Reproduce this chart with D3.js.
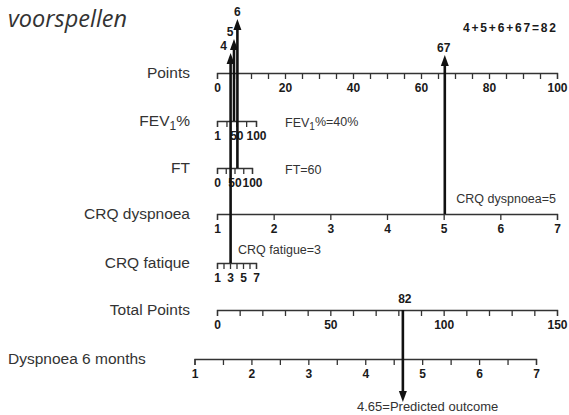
<!DOCTYPE html>
<html><head><meta charset="utf-8">
<script src="https://cdn.jsdelivr.net/npm/d3@7"></script>
<style>
html,body{margin:0;padding:0;background:#fff;}
svg{display:block;}
.axis text{font-family:"Liberation Sans",Arial,sans-serif;font-weight:bold;font-size:12px;fill:#1a1a1a;}
.axis path,.axis line{stroke:#333;stroke-width:1.3;}
.name{font-family:"Liberation Sans",Arial,sans-serif;font-size:15.5px;fill:#333;}
.ann{font-family:"Liberation Sans",Arial,sans-serif;font-size:12.5px;fill:#333;}
.num{font-family:"Liberation Sans",Arial,sans-serif;font-size:12px;font-weight:bold;fill:#1a1a1a;}
</style></head><body>
<svg id="c" width="569" height="415"></svg>
<script>
// ---- data ----
const pointsTicks = d3.range(0, 101, 5);
const pointsLabels = [0, 20, 40, 60, 80, 100];
const fev1Ticks = [1, 25, 50, 75, 100];
const fev1Labels = [1, 50, 100];
const ftTicks = [0, 25, 50, 75, 100];
const ftLabels = [0, 50, 100];
const crqDyspTicks = [1, 2, 3, 4, 5, 6, 7];
const crqFatTicks = [1, 2, 3, 4, 5, 6, 7];
const crqFatLabels = [1, 3, 5, 7];
const totalTicks = d3.range(0, 151, 10);
const totalLabels = [0, 50, 100, 150];
const outcomeTicks = d3.range(1, 7.01, 0.5);
const outcomeLabels = [1, 2, 3, 4, 5, 6, 7];

const variableNames = ["FEV1%", "FT", "CRQ dyspnoea", "CRQ fatigue"];
const variableValues = [40, 60, 5, 3];
const variablePoints = [5, 6, 67, 4];
const totalPoints = 82;
const predictedOutcome = 4.65;

// ---- layout ----
const svg = d3.select("#c");
const X0 = 217, X1 = 557;
const xPoints = d3.scaleLinear().domain([0, 100]).range([X0, X1]);
const xFev1 = d3.scaleLinear().domain([1, 100]).range([X0, 256]);
const xFt = d3.scaleLinear().domain([0, 100]).range([X0, 252]);
const xDysp = d3.scaleLinear().domain([1, 7]).range([X0, X1]);
const xFat = d3.scaleLinear().domain([1, 7]).range([X0, 256]);
const xTotal = d3.scaleLinear().domain([0, 150]).range([X0, X1]);
const xOut = d3.scaleLinear().domain([1, 7]).range([194.5, 536]);

const rows = [
  {name: "Points", y: 73, scale: xPoints, ticks: pointsTicks, labels: pointsLabels},
  {name: "FEV1%", y: 121, scale: xFev1, ticks: fev1Ticks, labels: fev1Labels},
  {name: "FT", y: 168, scale: xFt, ticks: ftTicks, labels: ftLabels},
  {name: "CRQ dyspnoea", y: 214, scale: xDysp, ticks: crqDyspTicks, labels: crqDyspTicks},
  {name: "CRQ fatique", y: 263, scale: xFat, ticks: crqFatTicks, labels: crqFatLabels},
  {name: "Total Points", y: 310, scale: xTotal, ticks: totalTicks, labels: totalLabels},
  {name: "Dyspnoea 6 months", y: 359, scale: xOut, ticks: outcomeTicks, labels: outcomeLabels, left: true}
];

// title fragment
svg.append("text").attr("x", 8).attr("y", 27)
  .style("font-family", "'Open Sans',sans-serif").style("font-style", "italic")
  .style("font-size", "23.5px").style("fill", "#333").text("voorspellen");

rows.forEach(r => {
  const ax = d3.axisBottom(r.scale).tickValues(r.ticks).tickSize(6).tickSizeOuter(6).tickPadding(4)
    .tickFormat(d => r.labels.some(l => Math.abs(l - d) < 1e-9) ? d3.format("d")(d) : "");
  svg.append("g").attr("class", "axis").attr("transform", `translate(0,${r.y})`).call(ax);
  const t = svg.append("text").attr("class", "name").attr("y", r.y).attr("dy", "0.35em");
  if (r.left) t.attr("x", 8).attr("text-anchor", "start");
  else t.attr("x", 190).attr("text-anchor", "end");
  if (r.name === "FEV1%") {
    t.text("FEV");
    t.append("tspan").attr("dy", "0.3em").style("font-size", "12px").text("1");
    t.append("tspan").attr("dy", "-0.25em").text("%");
  } else t.text(r.name);
});

// arrows
function arrow(x, yFrom, yTip, dir) {
  const h = 11, w = 4;
  svg.append("line").attr("x1", x).attr("x2", x).attr("y1", yFrom).attr("y2", yTip - dir * (h - 2))
    .attr("stroke", "#111").attr("stroke-width", 2.6);
  svg.append("path")
    .attr("d", `M${x},${yTip} L${x - w},${yTip - dir * h} L${x + w},${yTip - dir * h} Z`)
    .attr("fill", "#111");
}
const startY = [121, 168, 214, 263];
const tipY = [39, 19, 55, 53];
const labelDx = [-4, 0, -1, -7];
variablePoints.forEach((p, i) => {
  const x = xPoints(p);
  arrow(x, startY[i], tipY[i], -1);
  svg.append("text").attr("class", "num").attr("x", x + labelDx[i]).attr("y", tipY[i] - 3)
    .attr("text-anchor", "middle").text(p);
});

// total -> outcome arrow
arrow(xTotal(totalPoints), 310, 402, 1);
svg.append("text").attr("class", "num").attr("x", xTotal(totalPoints) + 2).attr("y", 303)
  .attr("text-anchor", "middle").text(totalPoints);

// annotations
const sorted = variablePoints.slice().sort((a, b) => a - b);
svg.append("text").attr("class", "num").attr("x", 463).attr("y", 32)
  .attr("textLength", 93).attr("lengthAdjust", "spacing")
  .text(sorted.join("+") + "=" + totalPoints);

const fevAnn = svg.append("text").attr("class", "ann").attr("x", 285).attr("y", 127);
fevAnn.append("tspan").text("FEV");
fevAnn.append("tspan").attr("dy", "0.3em").style("font-size", "10px").text("1");
fevAnn.append("tspan").attr("dy", "-0.3em").text("%=" + variableValues[0] + "%");

svg.append("text").attr("class", "ann").attr("x", 285).attr("y", 174).text("FT=" + variableValues[1]);
svg.append("text").attr("class", "ann").attr("x", 556).attr("y", 203).attr("text-anchor", "end")
  .text("CRQ dyspnoea=" + variableValues[2]);
svg.append("text").attr("class", "ann").attr("x", 238).attr("y", 254).text("CRQ fatigue=" + variableValues[3]);
svg.append("text").attr("class", "ann").style("font-size", "13px").attr("x", 357).attr("y", 411)
  .text(predictedOutcome + "=Predicted outcome");
</script>
</body></html>
